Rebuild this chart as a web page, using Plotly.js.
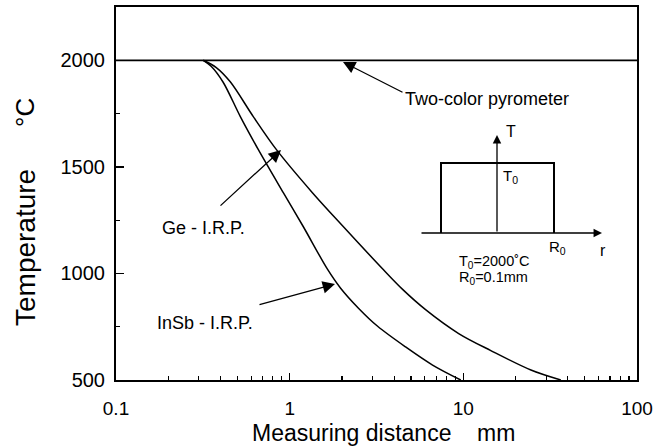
<!DOCTYPE html>
<html>
<head>
<meta charset="utf-8">
<script src="https://cdn.plot.ly/plotly-3.0.1.min.js"></script>
<style>html,body{margin:0;padding:0;background:#fff;}#chart{width:658px;height:448px;}</style>
</head>
<body>
<div id="chart"></div>
<script>
// Measuring distance (mm) and indicated temperature (°C)
var pyroX = [0.1, 100];
var pyroT = [2000, 2000];

// below 0.318 mm both I.R.P. curves coincide with the 2000 °C line
var inSbX = [0.318, 0.353, 0.414, 0.519, 0.659, 0.919, 1.199, 1.65, 1.96, 2.49, 3.21, 4.65, 6.65, 9.66];
var inSbT = [2000, 1972, 1897, 1737, 1582, 1379, 1219, 1020, 932, 837, 752, 655, 570, 500];

var geX = [0.318, 0.378, 0.455, 0.616, 0.837, 1.352, 2.04, 3.47, 4.47, 6.06, 9.40, 14.4, 24.5, 36.4];
var geT = [2000, 1966, 1899, 1737, 1582, 1379, 1219, 1017, 925, 830, 718, 638, 547, 500];

var xTickVals = [0.1, 1, 10, 100];
var xTickText = ['0.1', '1', '10', '100'];
var xMinor = [0.2,0.3,0.4,0.5,0.6,0.7,0.8,0.9,2,3,4,5,6,7,8,9,20,30,40,50,60,70,80,90];
var yTickVals = [500, 1000, 1500, 2000];
var yMinor = [750, 1250, 1750];

var FONT = 'Liberation Sans, Arial, Helvetica, sans-serif';
var lineStyle = {color: '#000', width: 1.5, shape: 'spline', smoothing: 0.9};

var traces = [
  {x: pyroX, y: pyroT, mode: 'lines', line: {color: '#000', width: 1.8}, hoverinfo: 'skip'},
  {x: inSbX, y: inSbT, mode: 'lines', line: lineStyle, hoverinfo: 'skip'},
  {x: geX, y: geT, mode: 'lines', line: lineStyle, hoverinfo: 'skip'}
];

// paper helpers: plot area spans pixels 116..637 horizontally, 7..380 vertically
function px(x){ return (x - 116) / 521; }
function py(y){ return (380 - y) / 373; }

var ann = [];
function txt(t, x, y, size, xanchor, angle){
  ann.push({text: t, xref: 'paper', yref: 'paper', x: px(x), y: py(y), showarrow: false,
    xanchor: xanchor || 'center', yanchor: 'middle', textangle: angle || 0,
    font: {family: FONT, size: size, color: '#000'}});
}
function arrow(tx, ty, fx, fy, size, head){
  ann.push({text: '', xref: 'paper', yref: 'paper', x: px(tx), y: py(ty),
    ax: fx - tx, ay: fy - ty, showarrow: true, arrowhead: head || 2, arrowsize: size,
    arrowwidth: 1.3, arrowcolor: '#000', standoff: 0, startstandoff: 0});
}

txt('Two-color pyrometer', 403, 99, 18, 'left');
txt('Ge - I.R.P.', 160, 228, 18, 'left');
txt('InSb - I.R.P.', 155, 323, 18, 'left');
arrow(343, 62, 404, 93, 1.9);
arrow(281, 150, 219, 207, 1.9);
arrow(335, 284, 258, 305, 1.9);

// inset schematic
arrow(497, 135, 497, 233, 1.3);
arrow(602, 233, 420, 233, 1.3);
txt('T', 504, 131, 16, 'left');
txt('T<sub>0</sub>', 501, 176, 15, 'left');
txt('R<sub>0</sub>', 557, 247, 15, 'center');
txt('r', 603, 250, 16, 'center');
txt('T<sub>0</sub>=2000˚C', 494, 262, 14.5, 'center');
txt('R<sub>0</sub>=0.1mm', 493, 278, 14.5, 'center');

// axis titles
txt('Temperature', 25, 248, 28, 'center', -90);
txt('°C', 25, 113, 26, 'center', -90);
txt('Measuring distance', 351, 433, 23, 'center');
txt('mm', 496, 433, 23, 'center');

var shapes = [
  {type: 'path', xref: 'paper', yref: 'paper',
   path: 'M ' + px(441) + ' ' + py(233) + ' L ' + px(441) + ' ' + py(163) + ' L ' + px(554) + ' ' + py(163) + ' L ' + px(554) + ' ' + py(233),
   line: {color: '#000', width: 2}}
];

var layout = {
  width: 658, height: 448,
  margin: {l: 116, r: 21, t: 7, b: 68, pad: 0},
  paper_bgcolor: '#fff', plot_bgcolor: '#fff',
  showlegend: false,
  font: {family: FONT, color: '#000'},
  xaxis: {
    type: 'log', range: [-1, 2],
    tickvals: xTickVals, ticktext: xTickText,
    ticks: 'inside', ticklen: 7, tickwidth: 1.5, tickcolor: '#000',
    minor: {tickvals: xMinor, ticks: 'inside', ticklen: 4, tickwidth: 1.2, tickcolor: '#000', showgrid: false},
    showgrid: false, zeroline: false,
    showline: true, linecolor: '#000', linewidth: 2, mirror: true,
    tickfont: {family: FONT, size: 19, color: '#000'},
    ticklabelstandoff: 10
  },
  yaxis: {
    range: [500, 2250],
    tickvals: yTickVals,
    ticks: 'inside', ticklen: 8, tickwidth: 1.5, tickcolor: '#000',
    minor: {tickvals: yMinor, ticks: 'inside', ticklen: 4, tickwidth: 1.2, tickcolor: '#000', showgrid: false},
    showgrid: false, zeroline: false,
    showline: true, linecolor: '#000', linewidth: 2, mirror: true,
    tickfont: {family: FONT, size: 20, color: '#000'},
    ticklabelstandoff: 5
  },
  annotations: ann,
  shapes: shapes
};

Plotly.newPlot('chart', traces, layout, {staticPlot: true, displayModeBar: false});
</script>
</body>
</html>
